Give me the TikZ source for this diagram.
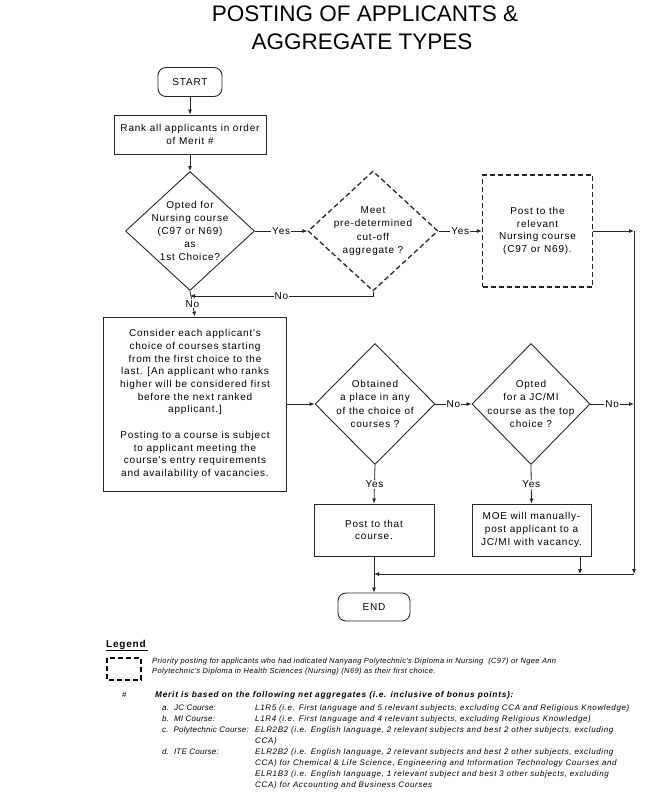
\documentclass[tikz,border=0pt]{standalone}
\usepackage{fontspec}
\setmainfont{Liberation Sans}
\newfontfamily\diagfont{Liberation Sans}[LetterSpace=8]
\newfontfamily\legfont{Liberation Sans}[LetterSpace=8]
\newfontfamily\legfontl{Liberation Sans}[LetterSpace=3]
\newfontfamily\legfontp{Liberation Sans}[LetterSpace=5]
\newfontfamily\legfontb{Liberation Sans}[LetterSpace=9]
\usetikzlibrary{shapes.geometric,arrows.meta}
\tikzset{
  ln/.style={line width=0.8pt, draw=black!85},
  arr/.style={ln, -{Latex[length=5pt,width=4pt]}},
  txt/.style={font=\diagfont\fontsize{10}{12.7}\selectfont, align=center, inner sep=0pt},
  dtxt/.style={font=\diagfont\fontsize{10}{13.2}\selectfont, align=center, inner sep=0pt},
  box/.style={draw=black!85, line width=0.9pt, rectangle, txt},
  dbox/.style={box, line width=1.3pt, dash pattern=on 5pt off 3pt},
  dia/.style={draw=black!85, diamond, inner sep=0pt, line width=0.9pt},
  ddia/.style={dia, line width=1.3pt, dash pattern=on 5pt off 3pt},
  term/.style={box, rounded corners=8pt},
  lab/.style={txt, fill=white, inner sep=1.2pt},
  legtxt/.style={font=\legfont\itshape\fontsize{8}{10.5}\selectfont, anchor=west, inner sep=0pt, text height=6pt, text depth=2pt},
  leglab/.style={legtxt, font=\legfontl\itshape\fontsize{8}{10.5}\selectfont},
  legp/.style={legtxt, font=\legfontp\itshape\fontsize{7.5}{10}\selectfont},
  legbold/.style={legtxt, font=\legfontb\bfseries\itshape\fontsize{8.3}{10.5}\selectfont},
}
\begin{document}
\begin{tikzpicture}[x=1pt,y=-1pt]
\useasboundingbox (0,0) rectangle (669,812);
% title
\node[font=\fontsize{22.5}{28}\selectfont, anchor=base, inner sep=0pt] (t1) at (365,21) {POSTING OF APPLICANTS \&};
\node[font=\fontsize{22.5}{28}\selectfont, anchor=base, inner sep=0pt] (t2) at (362,49) {AGGREGATE TYPES};

% nodes
\node[term, minimum width=64pt, minimum height=29pt] (start) at (190,82) {START};
\node[box, minimum width=152pt, minimum height=39pt] (rank) at (190,134.5) {Rank all applicants in order\\of Merit \#};
\node[dia, minimum width=129pt, minimum height=119pt, label={[dtxt]center:Opted for\\Nursing course\\(C97 or N69)\\as\\1st Choice?}] (d1) at (190,231) {};
\node[ddia, minimum width=130pt, minimum height=120pt, label={[dtxt]center:Meet\\pre-determined\\cut-off\\aggregate ?}] (d2) at (373,231) {};
\node[dbox, minimum width=110pt, minimum height=112pt] (b3) at (537.5,231) {Post to the\\relevant\\Nursing course\\(C97 or N69).};
\node[box, minimum width=183pt, minimum height=174pt] (big) at (195,404) {Consider each applicant's\\choice of courses starting\\from the first choice to the\\last. [An applicant who ranks\\higher will be considered first\\before the next ranked\\applicant.]\\[12.7pt]Posting to a course is subject\\to applicant meeting the\\course's entry requirements\\and availability of vacancies.};
\node[dia, minimum width=120pt, minimum height=121pt, label={[dtxt]center:Obtained\\a place in any\\of the choice of\\courses ?}] (d3) at (375,404) {};
\node[dia, minimum width=118pt, minimum height=121pt, label={[dtxt]center:Opted\\for a JC/MI\\course as the top\\choice ?}] (d4) at (531,404) {};
\node[box, minimum width=120pt, minimum height=52pt] (post) at (374,530) {Post to that\\course.};
\node[box, minimum width=119pt, minimum height=52pt] (moe) at (531.5,530) {MOE will manually-\\post applicant to a\\JC/MI with vacancy.};
\node[term, minimum width=72pt, minimum height=28pt] (end) at (374,607) {END};

% coordinates
\coordinate (rtop) at (634,231);
\coordinate (rmid) at (634,404);
\coordinate (rbot) at (634,574);
\coordinate (nojoin) at (190,296);
\coordinate (d2low) at (373,296);
\coordinate (moelow) at (580,574);
\coordinate (endjoin) at (374,574);

% connectors
\draw[arr] (start) -- (rank);
\draw[arr] (rank) -- (d1.north);
\draw[arr] (d1.east) -- node[lab]{Yes} (d2.west);
\draw[arr] (d2.east) -- node[lab]{Yes} (b3.west);
\draw[arr] (b3.east) -- (rtop);
\draw[arr] (rtop) -- (rbot);
\draw[arr] (d2.south) -- (d2low) -- node[lab]{No} (nojoin);
\draw[arr] (d1.south) -- node[lab, pos=0.5]{No} (big.north);
\draw[arr] (big.east) -- (d3.west);
\draw[arr] (d3.east) -- node[lab]{No} (d4.west);
\draw[arr] (d4.east) -- node[lab]{No} (rmid);
\draw[arr] (d3.south) -- node[lab]{Yes} (post.north);
\draw[arr] (d4.south) -- node[lab]{Yes} (moe.north);
\draw[arr] (moe.south -| moelow) -- (moelow);
\draw[arr] (rbot) -- (endjoin);
\draw[arr] (post.south) -- (end.north);

% legend
\node[font=\diagfont\bfseries\fontsize{10}{12}\selectfont, anchor=west, inner sep=0pt] (legend) at (106,645) {Legend};
\draw[line width=1pt] (legend.south west) ++(0,0.5) -- ++(42,0);
\draw[line width=1.3pt, dash pattern=on 5pt off 3pt] (107,658) rectangle (141,680);
\node[legp] (lp1) at (152,661) {Priority posting for applicants who had indicated Nanyang Polytechnic's Diploma in Nursing\ \ (C97) or Ngee Ann};
\node[legp] (lp2) at (152,671.5) {Polytechnic's Diploma in Health Sciences (Nursing) (N69) as their first choice.};
\node[legtxt, font=\legfont\fontsize{8}{10}\selectfont] (hash) at (122,695) {\#};
\node[legbold] (merit) at (155,695) {Merit is based on the following net aggregates (i.e. inclusive of bonus points):};
\node[leglab] (la) at (162,708) {a.\ \ JC Course:};
\node[legtxt] (lat) at (255,708) {L1R5 (i.e. First language and 5 relevant subjects, excluding CCA and Religious Knowledge)};
\node[leglab] (lb) at (162,719) {b.\ \ MI Course:};
\node[legtxt] (lbt) at (255,719) {L1R4 (i.e. First language and 4 relevant subjects, excluding Religious Knowledge)};
\node[leglab] (lc) at (162,730) {c.\ \ Polytechnic Course:};
\node[legtxt] (lct) at (255,730) {ELR2B2 (i.e. English language, 2 relevant subjects and best 2 other subjects, excluding};
\node[legtxt] (lct2) at (255,741) {CCA)};
\node[leglab] (ld) at (162,752) {d.\ \ ITE Course:};
\node[legtxt] (ldt) at (255,752) {ELR2B2 (i.e. English language, 2 relevant subjects and best 2 other subjects, excluding};
\node[legtxt] (ldt2) at (255,763) {CCA) for Chemical \& Life Science, Engineering and Information Technology Courses and};
\node[legtxt] (ldt3) at (255,774) {ELR1B3 (i.e. English language, 1 relevant subject and best 3 other subjects, excluding};
\node[legtxt] (ldt4) at (255,785) {CCA) for Accounting and Business Courses};
\end{tikzpicture}
\end{document}
